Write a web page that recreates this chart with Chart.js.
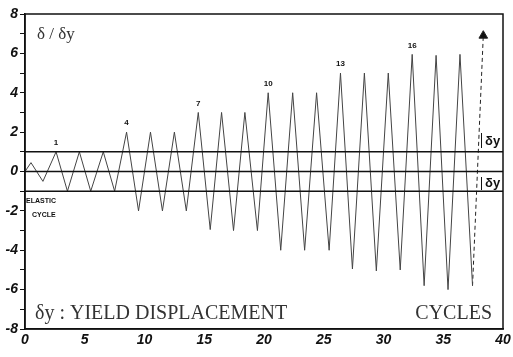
<!DOCTYPE html>
<html>
<head>
<meta charset="utf-8">
<script src="https://cdn.jsdelivr.net/npm/chart.js@4.4.0/dist/chart.umd.min.js"></script>
<style>
  body { margin: 0; background: #fff; }
  #wrap { width: 513px; height: 357px; }
</style>
</head>
<body>
<div id="wrap"><canvas id="chart" width="513" height="357"></canvas></div>
<script>
// ciclos (eje x) y desplazamiento normalizado delta/delta_y
const cycleX = [0, 0.5, 1.5, 2.6, 3.55, 4.55, 5.5, 6.55, 7.5, 8.5, 9.5, 10.5, 11.5, 12.5, 13.5,
  14.5, 15.5, 16.45, 17.45, 18.4, 19.45, 20.35, 21.4, 22.4, 23.4, 24.4, 25.45, 26.4, 27.4,
  28.4, 29.4, 30.4, 31.4, 32.4, 33.4, 34.4, 35.4, 36.4, 37.45];
const dispY = [0, 0.45, -0.5, 1, -1, 1, -1, 1, -1, 2, -2, 2, -2, 2, -2,
  3, -2.95, 3, -3, 3, -3, 4, -4, 4, -4, 4, -4, 5, -4.95,
  5, -5.05, 5, -5, 5.95, -5.8, 5.9, -6, 5.95, -5.8];

// flecha final
const arrowX = [37.45, 38.35];
const arrowY = [-5.8, 6.9];

// lineas de referencia (+dy, 0, -dy)
const refLevels = [1, 0, -1];

// numeros de ciclo marcados
const cycleLabels = [1, 4, 7, 10, 13, 16];

const xTicks = [0, 5, 10, 15, 20, 25, 30, 35, 40];

const toPoints = (xs, ys) => xs.map((x, i) => ({ x, y: ys[i] }));

const refSets = refLevels.map(v => ({
  data: [{ x: 0, y: v }, { x: 40, y: v }],
  showLine: true,
  borderColor: '#111',
  borderWidth: 1.5,
  pointRadius: 0
}));

// texto y marco
const notes = {
  id: 'notes',
  afterDraw(chart) {
    const { ctx, chartArea: a, scales: { x, y } } = chart;
    ctx.save();
    ctx.strokeStyle = '#111';
    ctx.lineWidth = 1.5;
    ctx.strokeRect(a.left, a.top, a.right - a.left, a.bottom - a.top);

    // numeros de ciclo sobre cada pico
    ctx.fillStyle = '#111';
    ctx.font = 'bold 8px "Liberation Sans"';
    ctx.textAlign = 'center';
    ctx.textBaseline = 'bottom';
    cycleLabels.forEach(n => {
      const i = 1 + 2 * n;
      ctx.fillText(String(n), x.getPixelForValue(cycleX[i]), y.getPixelForValue(dispY[i]) - 5);
    });

    ctx.textAlign = 'left';
    ctx.textBaseline = 'middle';
    ctx.fillStyle = '#333';
    ctx.font = '17px "Liberation Serif"';
    ctx.fillText('δ / δy', 37, 35);
    ctx.font = '20px "Liberation Serif"';
    ctx.fillText('δy : YIELD DISPLACEMENT', 35, 314);
    ctx.textAlign = 'right';
    ctx.fillText('CYCLES', 492, 314);

    ctx.fillStyle = '#111';
    ctx.textAlign = 'left';
    ctx.font = 'bold 7px "Liberation Sans"';
    ctx.fillText('ELASTIC', 26, 201);
    ctx.fillText('CYCLE', 32, 215);

    ctx.font = 'bold 13px "Liberation Sans"';
    ctx.fillText('δy', 485, 141);
    ctx.fillText('δy', 485, 183);
    ctx.lineWidth = 1;
    ctx.beginPath();
    ctx.moveTo(481.5, 133); ctx.lineTo(481.5, 148);
    ctx.moveTo(481.5, 177); ctx.lineTo(481.5, 190);
    ctx.stroke();
    ctx.restore();
  }
};

new Chart(document.getElementById('chart'), {
  type: 'scatter',
  data: {
    datasets: [
      ...refSets,
      {
        data: toPoints(cycleX, dispY),
        showLine: true,
        borderColor: '#444',
        borderWidth: 1,
        pointRadius: 0
      },
      {
        data: toPoints(arrowX, arrowY),
        showLine: true,
        borderWidth: 1,
        borderDash: [4, 3],
        pointStyle: 'triangle',
        pointRadius: [0, 5],
        backgroundColor: '#111',
        borderColor: '#222'
      }
    ]
  },
  options: {
    responsive: false,
    animation: false,
    layout: { padding: { top: 14, right: 10, left: 0, bottom: 0 } },
    plugins: { legend: { display: false }, tooltip: { enabled: false } },
    scales: {
      x: {
        type: 'linear',
        min: 0,
        max: 40,
        afterBuildTicks: s => { s.ticks = xTicks.map(v => ({ value: v })); },
        afterFit: s => { s.height = 28; },
        grid: { drawOnChartArea: false, tickLength: 3, tickColor: 'transparent' },
        border: { color: '#111', width: 1.5 },
        ticks: {
          color: '#111',
          padding: 0,
          maxRotation: 0,
          font: { family: 'Liberation Sans', size: 14, weight: 'bold', style: 'italic' }
        }
      },
      y: {
        min: -8,
        max: 8,
        afterFit: s => { s.width = 25; },
        grid: { drawOnChartArea: false, tickLength: 5, color: '#111' },
        border: { color: '#111', width: 1.5 },
        ticks: {
          stepSize: 1,
          autoSkip: false,
          color: '#111',
          padding: 2,
          font: { family: 'Liberation Sans', size: 14, weight: 'bold', style: 'italic' },
          callback: v => (v % 2 === 0 ? v : '')
        }
      }
    }
  },
  plugins: [notes]
});
</script>
</body>
</html>
